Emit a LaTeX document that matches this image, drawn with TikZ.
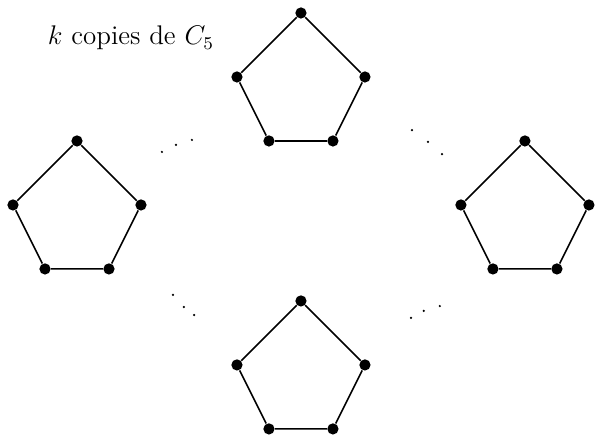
\documentclass[tikz,border=0pt]{standalone}
\usetikzlibrary{positioning}

\begin{document}
\begin{tikzpicture}[
        x=0.5cm, y=0.5cm,
        vertex/.style={circle, fill=black, inner sep=0pt, minimum size=5pt},
        edge/.style={line width=0.7pt},
        dotmark/.style={circle, fill=black, inner sep=0pt, minimum size=1.1pt}
    ]
        \useasboundingbox (-2.406,-7.1875) rectangle (16.19,6.406);

        % Pentagons
        \foreach \name/\cx/\cy in {top/7/4, left/0/0, right/14/0, bottom/7/-5} {
            \node (\name1) [vertex] at (\cx,\cy+2) {};
            \node (\name2) [vertex] at (\cx+2,\cy) {};
            \node (\name3) [vertex] at (\cx+1,\cy-2) {};
            \node (\name4) [vertex] at (\cx-1,\cy-2) {};
            \node (\name5) [vertex] at (\cx-2,\cy) {};
            \draw [edge] (\name1) -- (\name2) -- (\name3) -- (\name4) -- (\name5) -- (\name1);
        }

        % Label
        \node (label) [anchor=base, font=\fontsize{12}{14}\selectfont] at (1.69,5) {$k$ copies de $C_5$};

        % Dots between the copies
        \foreach \i/\x/\y in {a1/2.656/1.656, a2/3.094/1.875, a3/3.594/2.031,
                              b1/10.47/2.34, b2/10.97/1.97, b3/11.41/1.59,
                              c1/3.0/-2.81, c2/3.34/-3.19, c3/3.66/-3.44,
                              d1/10.44/-3.53, d2/10.84/-3.31, d3/11.34/-3.16}
            \node (\i) [dotmark] at (\x,\y) {};
    \end{tikzpicture}
\end{document}
